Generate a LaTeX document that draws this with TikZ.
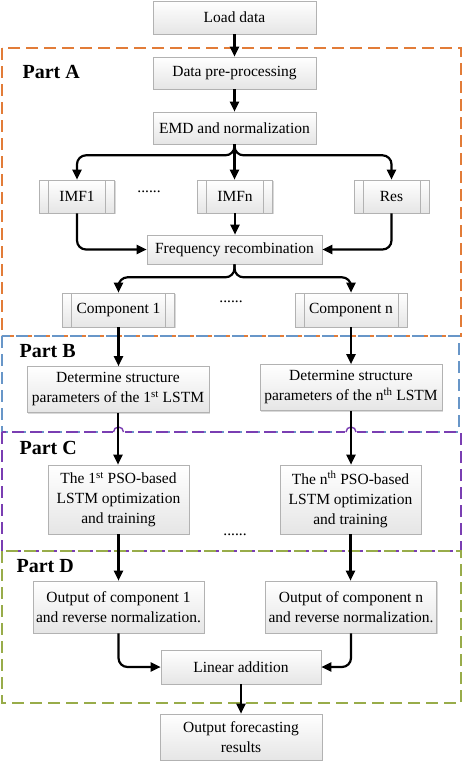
\documentclass[tikz,border=0pt]{standalone}
\usepackage{fontspec}
\setmainfont{Liberation Serif}
\usetikzlibrary{positioning, arrows.meta, shadows}

\definecolor{partA}{RGB}{226,124,56}
\definecolor{partB}{RGB}{104,150,200}
\definecolor{partC}{RGB}{122,62,178}
\definecolor{partD}{RGB}{152,172,74}

\begin{document}
\begin{tikzpicture}[x=1pt, y=-1pt,
  font=\fontsize{15.5}{20}\selectfont,
  block/.style={draw=gray!60, line width=0.6pt, top color=white,
    bottom color=gray!20, align=center, inner sep=0pt,
    drop shadow={shadow xshift=1.3pt, shadow yshift=-1.3pt, opacity=0.3}},
  proc/.style={block, path picture={
      \draw[gray!60, line width=0.6pt]
        ([xshift=9pt]path picture bounding box.north west) --
        ([xshift=9pt]path picture bounding box.south west)
        ([xshift=-9pt]path picture bounding box.north east) --
        ([xshift=-9pt]path picture bounding box.south east);}},
  flow/.style={line width=2.2pt, rounded corners=9pt,
    -{Triangle[length=10pt, width=9pt]}},
  part/.style={dash pattern=on 12pt off 6pt, line width=1.4pt},
  partlabel/.style={font=\fontsize{20}{24}\selectfont\bfseries, anchor=west}]
  \useasboundingbox (0,0) rectangle (463,763);

  % dashed frames of the four parts
  \draw[part, partA] (2,48) rectangle (461,336);
  \draw[part, partB] (2,336) rectangle (459,432);
  \draw[part, partC] (2,432) rectangle (461,551);
  \draw[part, partD] (2,551) rectangle (461,703);
  \node[partlabel] (lblA) at (19,72) {Part A};
  \node[partlabel] (lblB) at (16,351) {Part B};
  \node[partlabel] (lblC) at (16,448) {Part C};
  \node[partlabel] (lblD) at (13,566) {Part D};

  % part A
  \node[block, minimum width=163pt, minimum height=33pt] (load) at (234.5,17.5) {Load data};
  \node[block, minimum width=163pt, minimum height=32pt] (pre) at (234.5,73) {Data pre-processing};
  \node[block, minimum width=163pt, minimum height=32pt] (emd) at (234.5,128) {EMD and normalization};
  \node[proc, minimum width=75pt, minimum height=33pt] (imf1) at (77,196.5) {IMF1};
  \node[proc, minimum width=75pt, minimum height=33pt] (imfn) at (235,196.5) {IMFn};
  \node[proc, minimum width=75pt, minimum height=33pt] (res) at (391.5,196.5) {Res};
  \node (dotsA) at (149,192) {......};
  \node[block, minimum width=175pt, minimum height=29pt] (freq) at (234.5,249.5) {Frequency recombination};
  \node[proc, minimum width=112pt, minimum height=34pt] (comp1) at (118.5,310) {Component 1};
  \node[proc, minimum width=112pt, minimum height=34pt] (compn) at (351,310) {Component n};
  \node (dotsB) at (231,302) {......};

  % parts B, C and D
  \node[block, minimum width=182pt, minimum height=46pt] (struct1) at (118,389.5)
    {Determine structure\\parameters of the 1\textsuperscript{st} LSTM};
  \node[block, minimum width=182pt, minimum height=46pt] (structn) at (351,387.5)
    {Determine structure\\parameters of the n\textsuperscript{th} LSTM};
  \node[block, minimum width=141pt, minimum height=69pt] (pso1) at (118.5,499.5)
    {The 1\textsuperscript{st} PSO-based\\LSTM optimization\\and training};
  \node[block, minimum width=141pt, minimum height=69pt] (pson) at (350.5,499.5)
    {The n\textsuperscript{th} PSO-based\\LSTM optimization\\and training};
  \node (dotsC) at (235,535) {......};
  \node[block, minimum width=171pt, minimum height=52pt] (out1) at (118.5,607)
    {Output of component 1\\and reverse normalization.};
  \node[block, minimum width=171pt, minimum height=52pt] (outn) at (351,607)
    {Output of component n\\and reverse normalization.};
  \node[block, minimum width=160pt, minimum height=34pt] (lin) at (241,667) {Linear addition};
  \node[block, minimum width=162pt, minimum height=46pt] (result) at (241,737)
    {Output forecasting\\results};

  % jumps of the part C frame over the arrows
  \foreach \col in {comp1, compn}
    {
      \fill[white] ([xshift=-6pt]\col.south |- 0,429) rectangle ([xshift=6pt]\col.south |- 0,434);
      \draw[partC, line width=1.4pt] ([xshift=-5pt]\col.south |- 0,432)
        arc[start angle=180, end angle=0, radius=5pt];
    }

  % arrows
  \draw[flow] (load) -- (pre);
  \draw[flow] (pre) -- (emd);
  \draw[flow] (emd.south) -- ++(0,11) -| (imf1.north);
  \draw[flow] (emd.south) -- ++(0,11) -| (res.north);
  \draw[flow] (emd.south) -- (emd.south |- imfn.north);
  \draw[flow] (imf1.south) |- (freq.west);
  \draw[flow] (res.south) |- (freq.east);
  \draw[flow] (imfn.south) -- (imfn.south |- freq.north);
  \draw[flow] (freq.south) -- ++(0,13) -| (comp1.north);
  \draw[flow] (freq.south) -- ++(0,13) -| (compn.north);
  \foreach \k in {1, n}
    {
      \draw[flow] (comp\k.south) -- (comp\k.south |- struct\k.north);
      \draw[flow] (struct\k.south) -- (struct\k.south |- pso\k.north);
      \draw[flow] (pso\k.south) -- (pso\k.south |- out\k.north);
    }
  \draw[flow] (out1.south) |- (lin.west);
  \draw[flow] (outn.south) |- (lin.east);
  \draw[flow] (lin) -- (result);
\end{tikzpicture}
\end{document}
